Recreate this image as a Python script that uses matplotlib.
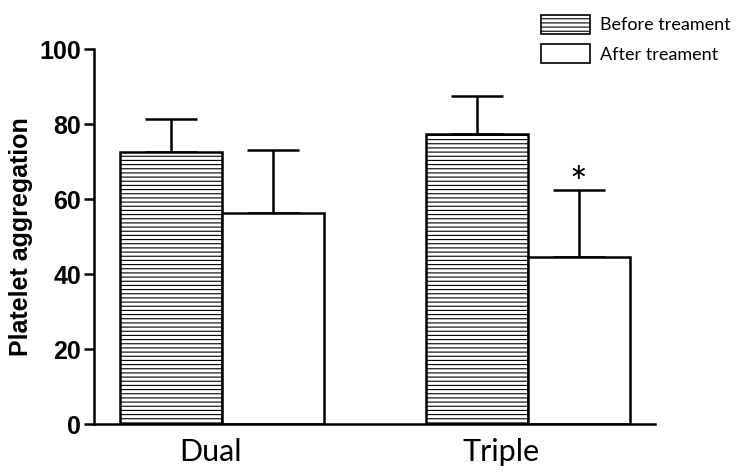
import numpy as np
import matplotlib
matplotlib.use("Agg")
import matplotlib.pyplot as plt

groups = ["Dual", "Triple"]
series = ["Before treament", "After treament"]
before = [72.6, 77.3]
before_err = [8.7, 10.1]
after = [56.2, 44.6]
after_err = [16.9, 17.8]

plt.rcParams['hatch.linewidth'] = 0.8
plt.rcParams['hatch.color'] = '#3a3a3a'

fig = plt.figure(figsize=(7.39, 4.76), dpi=100)
ax = fig.add_axes([0.127, 0.109, 0.759, 0.788])

x = np.arange(len(groups))
w = 0.333
lw = 1.8

ax.bar(x - w / 2, before, w, color='white', edgecolor='black', linewidth=lw,
       hatch='----', label=series[0], zorder=2)
ax.bar(x + w / 2, after, w, color='white', edgecolor='black', linewidth=lw,
       label=series[1], zorder=2)

for xs, vals, errs in [(x - w / 2, before, before_err), (x + w / 2, after, after_err)]:
    ax.errorbar(xs, vals, yerr=[np.zeros(len(errs)), errs], fmt='none',
                ecolor='black', elinewidth=lw, capsize=18.5, capthick=lw, zorder=1)

# significance mark over triple / after
ax.annotate('*', (x[1] + w / 2, after[1] + after_err[1]), xytext=(0, -10),
            textcoords='offset points', ha='center', va='bottom',
            fontsize=30, family='Lato')

ax.set_xlim(-0.42, 1.415)
ax.set_ylim(0, 100)
ax.set_yticks([0, 20, 40, 60, 80, 100])
# labels sit a little left of the group centres in the original
ax.set_xticks(x - np.array([0.04, 0.088]))
ax.set_xticklabels(groups, fontsize=22, family='Lato')
ax.tick_params(axis='x', length=0, pad=10)
ax.tick_params(axis='y', length=7, width=lw, pad=2, labelsize=18)
for t in ax.get_yticklabels():
    t.set_fontweight('bold')
    t.set_family('Liberation Sans')

for s in ['top', 'right']:
    ax.spines[s].set_visible(False)
for s in ['left', 'bottom']:
    ax.spines[s].set_linewidth(lw)

ax.set_ylabel('Platelet aggregation', fontsize=18, fontweight='bold',
              family='Liberation Sans', labelpad=5)

leg = fig.legend(loc='upper left', bbox_to_anchor=(0.715, 0.995), frameon=False,
                 prop={'family': 'Lato', 'size': 13}, handlelength=2.7,
                 handleheight=1.2, labelspacing=0.6, handletextpad=0.55,
                 borderpad=0.2)
for p in leg.get_patches():
    p.set_linewidth(1.2)

fig.savefig('out.png', dpi=100)
